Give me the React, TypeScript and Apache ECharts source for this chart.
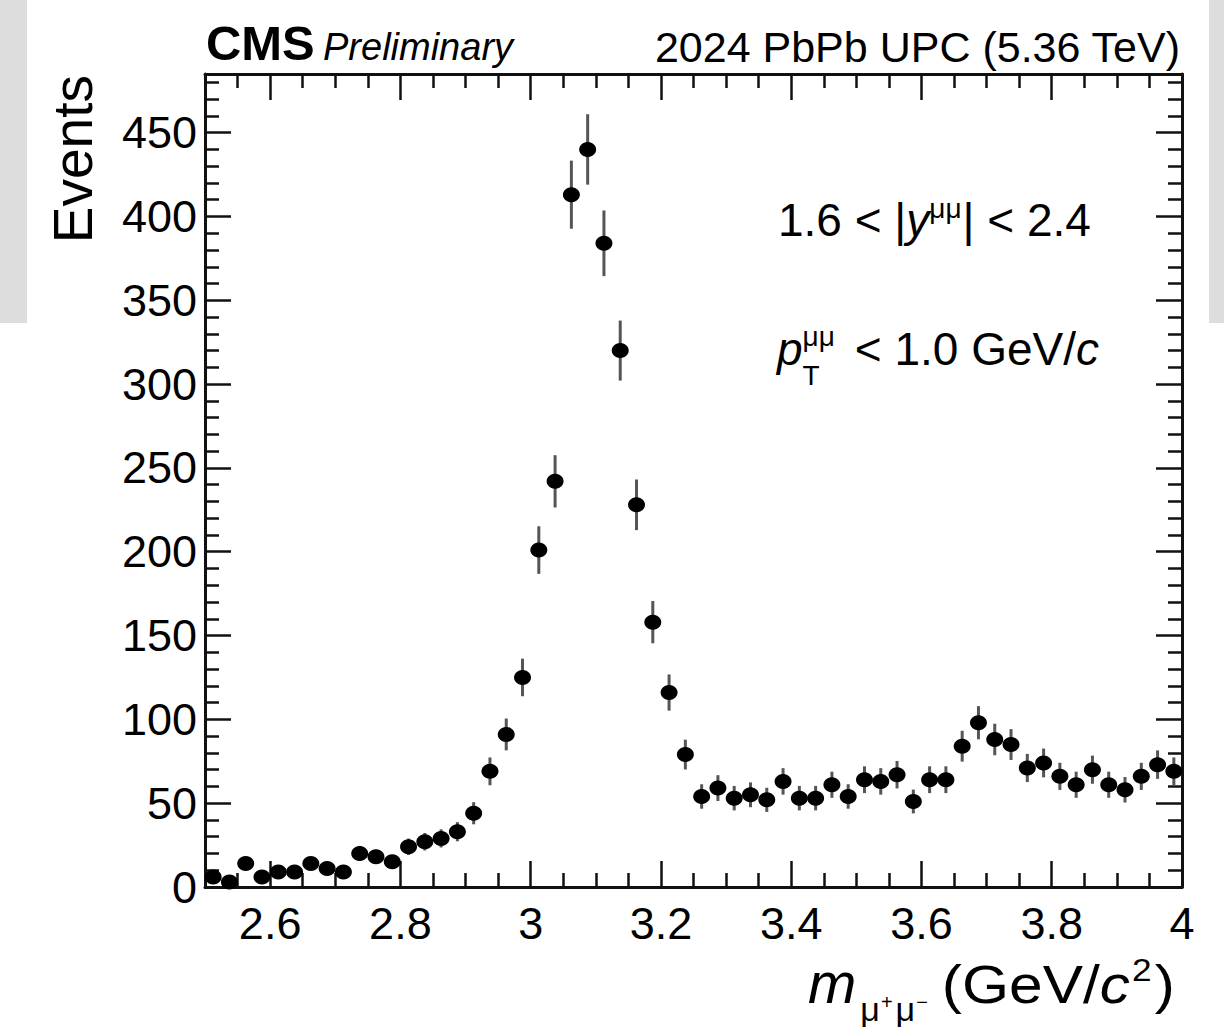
import React, { useEffect, useRef } from "react";
import * as echarts from "echarts";

// Histogram binning (GeV/c^2)
const massLow = 2.5;
const massHigh = 4.0;
const binWidth = 0.025;

// Events per bin (60 bins, 2.5 - 4.0)
const counts = [
  6, 3, 14, 6, 9, 9, 14, 11, 9, 20,
  18, 15, 24, 27, 29, 33, 44, 69, 91, 125,
  201, 242, 413, 440, 384, 320, 228, 158, 116, 79,
  54, 59, 53, 55, 52, 63, 53, 53, 61, 54,
  64, 63, 67, 51, 64, 64, 84, 98, 88, 85,
  71, 74, 66, 61, 70, 61, 58, 66, 73, 69,
];

// Vertical error bar half-lengths
const errors = [
  2.4, 1.7, 3.7, 2.4, 3.0, 3.0, 3.7, 3.3, 3.0, 4.5,
  4.2, 3.9, 4.9, 5.2, 5.4, 5.7, 6.6, 8.3, 9.5, 11.2,
  14.2, 15.6, 20.3, 21.0, 19.6, 17.9, 15.1, 12.6, 10.8, 8.9,
  7.3, 7.7, 7.3, 7.4, 7.2, 7.9, 7.3, 7.3, 7.8, 7.3,
  8.0, 7.9, 8.2, 7.1, 8.0, 8.0, 9.2, 9.9, 9.4, 9.2,
  8.4, 8.6, 8.1, 7.8, 8.4, 7.8, 7.6, 8.1, 8.5, 8.3,
];

const xMajorTicks = [2.6, 2.8, 3.0, 3.2, 3.4, 3.6, 3.8, 4.0];
const xMinorTicks = [
  2.55, 2.65, 2.7, 2.75, 2.85, 2.9, 2.95, 3.05, 3.1, 3.15, 3.25, 3.3, 3.35,
  3.45, 3.5, 3.55, 3.65, 3.7, 3.75, 3.85, 3.9, 3.95,
];
const yMajorTicks = [0, 50, 100, 150, 200, 250, 300, 350, 400, 450];
const yMinorTicks = [
  10, 20, 30, 40, 60, 70, 80, 90, 110, 120, 130, 140, 160, 170, 180, 190,
  210, 220, 230, 240, 260, 270, 280, 290, 310, 320, 330, 340, 360, 370, 380,
  390, 410, 420, 430, 440, 460, 470, 480,
];
const yMax = 485;

const FF = '"Liberation Sans", Arial, Helvetica, sans-serif';
const INK = "#111";

type Piece = {
  t: string;
  size: number;
  italic?: boolean;
  bold?: boolean;
  dy?: number;
  gap?: number;
  stack?: boolean;
  sx?: number;
};

function textRun(x0: number, base: number, pieces: Piece[]) {
  const canvas = document.createElement("canvas");
  const ctx = canvas.getContext("2d")!;
  let cur = x0;
  const els: any[] = [];
  for (const p of pieces) {
    ctx.font = `${p.italic ? "italic " : ""}${p.bold ? "bold " : ""}${p.size}px ${FF}`;
    const sx = p.sx || 1;
    const w = ctx.measureText(p.t).width * sx;
    const x = cur + (p.gap || 0);
    els.push({
      type: "text",
      x,
      y: base + (p.dy || 0) - 0.3465 * p.size,
      scaleX: sx,
      silent: true,
      style: {
        text: p.t,
        fontSize: p.size,
        fontFamily: FF,
        fontStyle: p.italic ? "italic" : "normal",
        fontWeight: p.bold ? "bold" : "normal",
        fill: "#000",
        textAlign: "left",
        textVerticalAlign: "middle",
      },
    });
    if (!p.stack) cur = x + w;
  }
  return els;
}

function tickAxis(pos: string, min: number, max: number, ticks: number[], len: number, withLine: boolean, labels: boolean, labelMargin: number) {
  return {
    type: "value",
    position: pos,
    min,
    max,
    splitLine: { show: false },
    axisLine: { show: withLine, onZero: false, lineStyle: { color: INK, width: 3 } },
    axisTick: {
      show: true,
      inside: true,
      length: len,
      customValues: ticks,
      lineStyle: { color: INK, width: 2.5 },
    },
    axisLabel: labels
      ? {
          show: true,
          customValues: ticks,
          margin: labelMargin,
          fontSize: 45,
          fontFamily: FF,
          color: "#000",
          formatter: (v: number) => String(Math.round(v * 10) / 10),
        }
      : { show: false },
  };
}

export default function App() {
  const ref = useRef<HTMLDivElement>(null);
  useEffect(() => {
    document.body.style.margin = "0";
    const chart = echarts.init(ref.current!, null, { renderer: "svg" });
    const centers = counts.map((_, i) => massLow + binWidth * (i + 0.5));
    const pts = centers.map((c, i) => [c, counts[i]]);
    const bars = centers.map((c, i) => [c, counts[i], errors[i]]);

    const graphic: any[] = [
      { type: "rect", silent: true, z: -10, shape: { x: 0, y: 0, width: 27, height: 323 }, style: { fill: "#dddddd" } },
      { type: "rect", silent: true, z: -10, shape: { x: 1209, y: 0, width: 15, height: 323 }, style: { fill: "#dddddd" } },
      ...textRun(206, 60, [{ t: "CMS", size: 48, bold: true, sx: 1.02 }]),
      ...textRun(323, 60, [{ t: "Preliminary", size: 38, italic: true }]),
      {
        type: "text",
        x: 1180,
        y: 62 - 0.3465 * 43,
        silent: true,
        style: {
          text: "2024 PbPb UPC (5.36 TeV)",
          fontSize: 43,
          fontFamily: FF,
          fill: "#000",
          textAlign: "right",
          textVerticalAlign: "middle",
        },
      },
      {
        type: "text",
        x: 73,
        y: 75,
        rotation: Math.PI / 2,
        silent: true,
        style: {
          text: "Events",
          fontSize: 55,
          fontFamily: FF,
          fill: "#000",
          textAlign: "right",
          textVerticalAlign: "middle",
        },
      },
      ...textRun(778, 236, [
        { t: "1.6 < |", size: 46 },
        { t: "y", size: 46, italic: true },
        { t: "\u03bc\u03bc", size: 28, dy: -18 },
        { t: "| < 2.4", size: 46, gap: 1 },
      ]),
      ...textRun(777, 365, [
        { t: "p", size: 46, italic: true },
        { t: "T", size: 28, dy: 20, stack: true },
        { t: "\u03bc\u03bc", size: 28, dy: -19 },
        { t: "< 1.0 GeV/", size: 46, gap: 20 },
        { t: "c", size: 46, italic: true },
      ]),
      ...textRun(808, 1003, [
        { t: "m", size: 58, italic: true },
        { t: "\u03bc", size: 34, dy: 18, gap: 4 },
        { t: "+", size: 20, dy: 6, gap: 1 },
        { t: "\u03bc", size: 34, dy: 18, gap: 3 },
        { t: "\u2212", size: 20, dy: 6, gap: 1 },
        { t: "(GeV/", size: 54, gap: 14, sx: 1.12 },
        { t: "c", size: 54, italic: true, sx: 1.12 },
        { t: "2", size: 32, dy: -22, gap: 2, sx: 1.1 },
        { t: ")", size: 54, gap: 3, sx: 1.12 },
      ]),
    ];

    chart.setOption({
      animation: false,
      backgroundColor: "#ffffff",
      grid: {
        left: 205,
        right: 42,
        top: 74,
        bottom: 143,
        containLabel: false,
        outerBoundsMode: "none",
      },
      xAxis: [
        tickAxis("bottom", massLow, massHigh, xMajorTicks, 26, true, true, 14),
        tickAxis("bottom", massLow, massHigh, xMinorTicks, 14, false, false, 0),
        tickAxis("top", massLow, massHigh, xMajorTicks, 26, true, false, 0),
        tickAxis("top", massLow, massHigh, xMinorTicks, 14, false, false, 0),
      ],
      yAxis: [
        tickAxis("left", 0, yMax, yMajorTicks, 26, true, true, 8),
        tickAxis("left", 0, yMax, yMinorTicks, 14, false, false, 0),
        tickAxis("right", 0, yMax, yMajorTicks, 26, true, false, 0),
        tickAxis("right", 0, yMax, yMinorTicks, 14, false, false, 0),
      ],
      graphic,
      series: [
        {
          type: "custom",
          xAxisIndex: 0,
          yAxisIndex: 0,
          data: bars,
          encode: { x: 0, y: 1 },
          z: 2,
          silent: true,
          renderItem: (params: any, api: any) => {
            const x = api.value(0);
            const v = api.value(1);
            const e = api.value(2);
            const p1 = api.coord([x, v - e]);
            const p2 = api.coord([x, v + e]);
            return {
              type: "line",
              shape: { x1: p1[0], y1: p1[1], x2: p2[0], y2: p2[1] },
              style: { stroke: "#555", lineWidth: 3 },
            };
          },
        },
        {
          type: "scatter",
          xAxisIndex: 0,
          yAxisIndex: 0,
          data: pts,
          symbol: "circle",
          symbolSize: [17, 15],
          itemStyle: { color: "#000", opacity: 1 },
          z: 3,
          silent: true,
        },
      ],
    });
    return () => chart.dispose();
  }, []);
  return <div ref={ref} style={{ width: 1224, height: 1030 }} />;
}
